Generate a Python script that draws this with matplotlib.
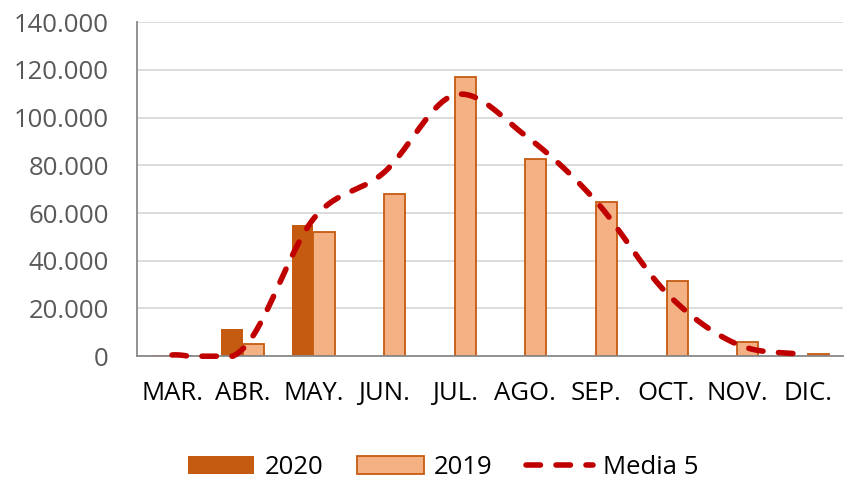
import numpy as np
import matplotlib.pyplot as plt
from matplotlib.ticker import FuncFormatter

plt.rcParams['font.family'] = ['Open Sans', 'DejaVu Sans']

months = ['MAR.', 'ABR.', 'MAY.', 'JUN.', 'JUL.', 'AGO.', 'SEP.', 'OCT.', 'NOV.', 'DIC.']
# values in thousands
y2020 = [0.3, 11.5, 55.0, 0, 0, 0, 0, 0, 0, 0]
y2019 = [0.2, 5.0, 52.0, 68.0, 117.0, 82.5, 64.5, 31.5, 6.0, 1.0]
media5 = [0.5, 3.0, 57.5, 77.0, 109.5, 92.5, 65.0, 26.5, 5.0, 0.5]


def catmull(x, y, n=30):
    # smooth line through the points, like excel's smoothed line
    x = np.asarray(x, float)
    y = np.asarray(y, float)
    px = np.concatenate([[2 * x[0] - x[1]], x, [2 * x[-1] - x[-2]]])
    py = np.concatenate([[2 * y[0] - y[1]], y, [2 * y[-1] - y[-2]]])
    xs, ys = [], []
    for i in range(1, len(px) - 2):
        t = np.linspace(0, 1, n)
        for p, out in ((px, xs), (py, ys)):
            p0, p1, p2, p3 = p[i - 1], p[i], p[i + 1], p[i + 2]
            out.extend(0.5 * ((2 * p1) + (-p0 + p2) * t
                              + (2 * p0 - 5 * p1 + 4 * p2 - p3) * t ** 2
                              + (-p0 + 3 * p1 - 3 * p2 + p3) * t ** 3))
    return np.array(xs), np.array(ys)


fig = plt.figure(figsize=(8.44, 4.82), dpi=100)
ax = fig.add_axes([0.162, 0.261, 0.837, 0.693])

x = np.arange(len(months))
w = 0.3
b1 = ax.bar(x - w / 2, y2020, w, color='#C55A11', label='2020', zorder=2)
b2 = ax.bar(x + w / 2, y2019, w, color='#F4B183', edgecolor='#C55A11', linewidth=1.3,
            label='2019', zorder=2)
sx, sy = catmull(x, media5)
# excel clips the smoothed line at the axis minimum
sy = np.clip(sy, 0, None)
ln, = ax.plot(sx, sy, color='#C00000', lw=4, ls=(0, (2.6, 2.8)), dash_capstyle='round',
              label='Media 5', zorder=3, clip_on=False)

ax.set_xlim(-0.5, len(months) - 0.5)
ax.set_ylim(0, 140)
ax.set_yticks(np.arange(0, 141, 20))
ax.yaxis.set_major_formatter(FuncFormatter(lambda v, p: f'{v * 1000:,.0f}'.replace(',', '.')))
ax.set_xticks(x)
ax.set_xticklabels(months)
ax.tick_params(axis='both', length=0, labelsize=18.5)
ax.tick_params(axis='x', pad=18, colors='black')
ax.tick_params(axis='y', pad=20, colors='#595959')
ax.grid(axis='y', color='#D9D9D9', lw=1.3, zorder=0)
ax.set_axisbelow(True)
for s in ['top', 'right']:
    ax.spines[s].set_visible(False)
for s in ['left', 'bottom']:
    ax.spines[s].set_color('#898989')
    ax.spines[s].set_linewidth(1.3)

fig.legend(handles=[b1, b2, ln], labels=['2020', '2019', 'Media 5'],
           loc='center', bbox_to_anchor=(0.525, 0.03), ncol=3, frameon=False,
           fontsize=18.5, handlelength=2.6, handleheight=0.7, columnspacing=1.3,
           handletextpad=0.4)

fig.savefig('out.png', dpi=100)
